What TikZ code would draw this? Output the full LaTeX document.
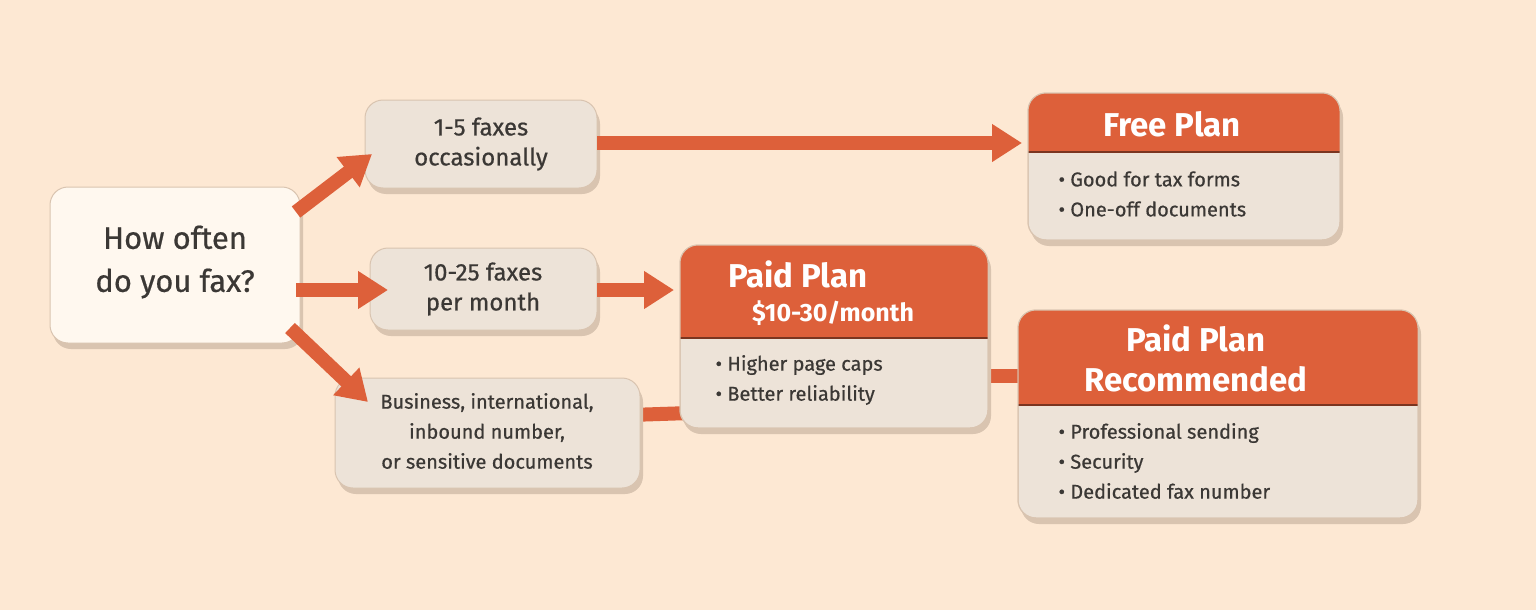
\documentclass[tikz,border=0pt]{standalone}
\usepackage{fontspec}
\setmainfont{Fira Sans}[FakeBold=0.6]
\newfontfamily\hfont{Fira Sans}
\usetikzlibrary{arrows.meta,calc}
\definecolor{bg}{HTML}{FDE8D3}
\definecolor{boxc}{HTML}{EDE3D8}
\definecolor{startc}{HTML}{FFF8EF}
\definecolor{orng}{HTML}{DD603A}
\definecolor{txt}{HTML}{3B3835}
\definecolor{shd}{HTML}{D9C4B0}
\tikzset{
  card/.style={rounded corners=18, fill=boxc, draw=shd, line width=1},
  conn/.style={draw=orng, line width=14},
  arr/.style={conn, -{Triangle[width=36,length=30]}},
  ltxt/.style={text=txt, align=center, font=\fontsize{24}{30}\selectfont},
  btxt/.style={text=txt, align=left, font=\fontsize{20}{30}\selectfont, anchor=west},
  htxt/.style={text=white, align=center, font=\hfont\fontsize{33}{36}\selectfont\bfseries},
}
\newcommand{\cardbox}[6]{%
  \fill[shd,rounded corners=18] (#2+3,#3+6) rectangle (#4+3,#5+6);
  \draw[card,fill=#6] (#2,#3) rectangle (#4,#5);
}
\newcommand{\planbox}[6]{%
  \fill[shd,rounded corners=18] (#2+3,#3+6) rectangle (#4+3,#5+6);
  \draw[card] (#2,#3) rectangle (#4,#5);
  \begin{scope}\clip[rounded corners=18] (#2,#3) rectangle (#4,#5);
    \fill[orng] (#2,#3) rectangle (#4,#6);
    \draw[black!45!orng,line width=1.5] (#2,#6) -- (#4,#6);
  \end{scope}
  \draw[rounded corners=18,draw=shd,line width=1] (#2,#3) rectangle (#4,#5);
}
\begin{document}
\begin{tikzpicture}[x=1pt,y=-1pt]
\fill[bg] (0,0) rectangle (1536,610);
\useasboundingbox (0,0) rectangle (1536,610);
\coordinate (s1) at (296,212); \coordinate (b1in) at (372,154);
\coordinate (s2) at (296,290); \coordinate (b2in) at (388,290);
\coordinate (s3) at (290,328); \coordinate (b3in) at (368,402);
\coordinate (b1out) at (597,143); \coordinate (freein) at (1022,143);
\coordinate (b2out) at (597,290); \coordinate (paidin) at (674,290);
\coordinate (b3out) at (630,415); \coordinate (paidin2) at (690,413);
\coordinate (paidout) at (980,376); \coordinate (recin) at (1025,376);
\draw[conn] (b3out) -- (paidin2);
\draw[conn] (paidout) -- (recin);
% boxes
\cardbox{start}{50}{187}{300}{343}{startc}
\node[ltxt,font=\fontsize{31}{43}\selectfont] (starttxt) at (175,262) {How often\\do you fax?};
\cardbox{b1}{365}{100}{597}{188}{boxc}
\node[ltxt] (b1txt) at (481,144) {1-5 faxes\\occasionally};
\cardbox{b2}{370}{248}{597}{330}{boxc}
\node[ltxt] (b2txt) at (483,289) {10-25 faxes\\per month};
\cardbox{b3}{335}{378}{640}{488}{boxc}
\node[ltxt,font=\fontsize{20}{30}\selectfont] (b3txt) at (487,431) {Business, international,\\inbound number,\\or sensitive documents};
\planbox{free}{1028}{93}{1340}{240}{152}
\node[htxt] (freeh) at (1172,124) {Free Plan};
\node[btxt] (freeb) at (1055,194) {• Good for tax forms\\• One-off documents};
\planbox{paid}{680}{245}{988}{428}{338}
\node[htxt] (paidh) at (798,274) {Paid Plan};
\node[htxt,font=\hfont\fontsize{25}{30}\selectfont\bfseries] (paidp) at (833,313) {\$10-30/month};
\node[btxt] (paidb) at (712,380) {• Higher page caps\\• Better reliability};
\planbox{rec}{1018}{310}{1418}{518}{405}
\node[htxt,font=\hfont\fontsize{33}{40}\selectfont\bfseries] (rech) at (1196,358) {Paid Plan\\Recommended};
\node[btxt] (recb) at (1055,461) {• Professional sending\\• Security\\• Dedicated fax number};
% arrows on top
\draw[arr] (s1) -- (b1in);
\draw[arr] (s2) -- (b2in);
\draw[arr] (s3) -- (b3in);
\draw[arr] (b1out) -- (freein);
\draw[arr] (b2out) -- (paidin);
\end{tikzpicture}
\end{document}
